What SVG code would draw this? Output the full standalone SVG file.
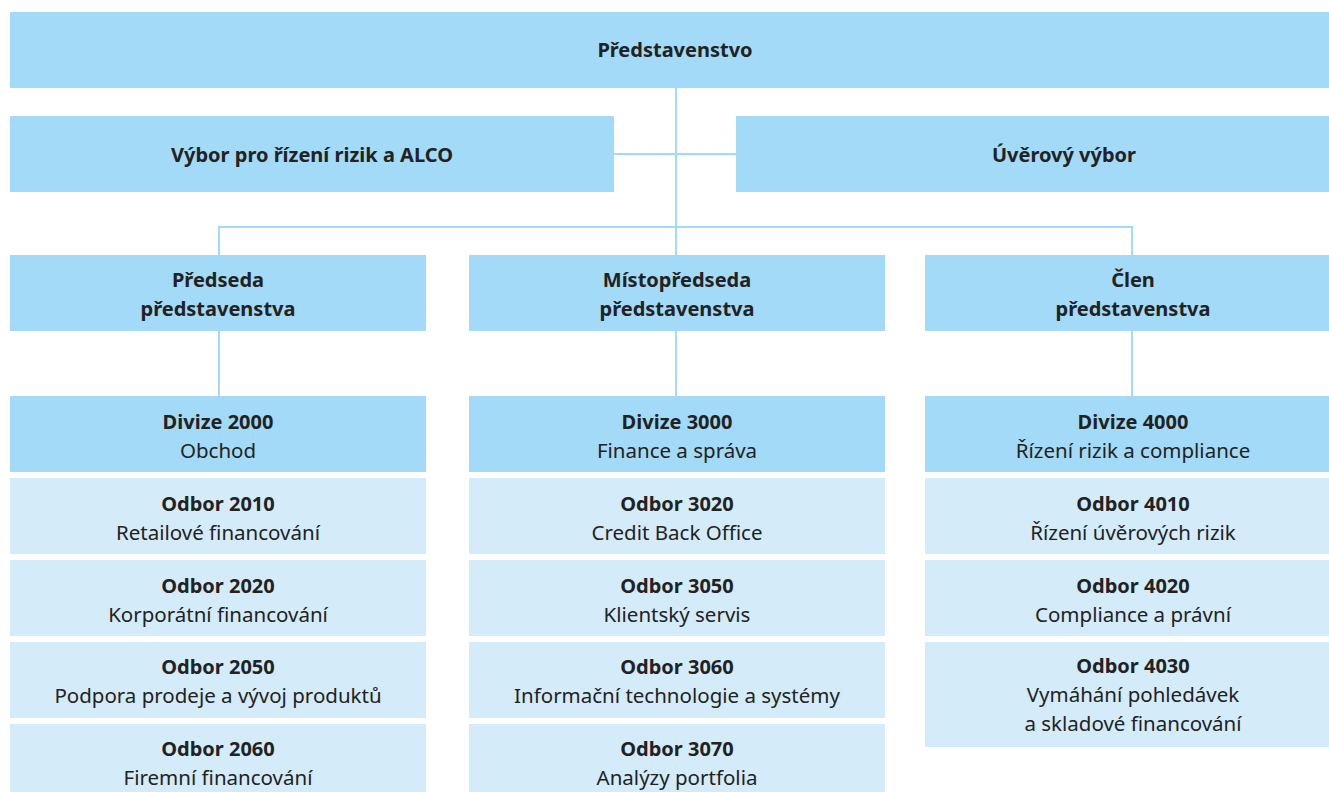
<svg xmlns="http://www.w3.org/2000/svg" width="1329" height="792" viewBox="0 0 1329 792">
<style>
.d{fill:#a3daf7}
.l{fill:#d4ebfa}
.c{stroke:#a3daf7;stroke-width:2;fill:none}
text{font-family:"Noto Sans","Open Sans",sans-serif;font-size:20.5px;fill:#222;text-anchor:middle}
.b{font-weight:bold;font-size:20px}
</style>
<rect width="1329" height="792" fill="#fff"/>
<g id="connectors">
<line class="c" x1="676" y1="88" x2="676" y2="255"/>
<line class="c" x1="614" y1="154" x2="736" y2="154"/>
<line class="c" x1="219" y1="227" x2="1132" y2="227"/>
<line class="c" x1="219" y1="226" x2="219" y2="255"/>
<line class="c" x1="1132" y1="226" x2="1132" y2="255"/>
<line class="c" x1="219" y1="331" x2="219" y2="396"/>
<line class="c" x1="676" y1="331" x2="676" y2="396"/>
<line class="c" x1="1132" y1="331" x2="1132" y2="396"/>
</g>
<g id="predstavenstvo"><rect class="d" x="10" y="12" width="1331" height="76"/><text class="b" x="675" y="57">Představenstvo</text></g>
<g id="vybor-rizik"><rect class="d" x="10" y="116" width="604" height="76"/><text class="b" x="312" y="162">Výbor pro řízení rizik a ALCO</text></g>
<g id="uverovy-vybor"><rect class="d" x="736" y="116" width="600" height="76"/><text class="b" x="1064" y="162">Úvěrový výbor</text></g>
<g id="predseda"><rect class="d" x="10" y="255" width="416" height="76"/><text class="b" x="218" y="287">Předseda</text><text class="b" x="218" y="316">představenstva</text></g>
<g id="mistopredseda"><rect class="d" x="469" y="255" width="416" height="76"/><text class="b" x="677" y="287">Místopředseda</text><text class="b" x="677" y="316">představenstva</text></g>
<g id="clen"><rect class="d" x="925" y="255" width="416" height="76"/><text class="b" x="1133" y="287">Člen</text><text class="b" x="1133" y="316">představenstva</text></g>

<g id="divize2000"><rect class="d" x="10" y="396" width="416" height="76"/><text class="b" x="218" y="429">Divize 2000</text><text x="218" y="458">Obchod</text></g>
<g id="odbor2010"><rect class="l" x="10" y="478" width="416" height="76"/><text class="b" x="218" y="511">Odbor 2010</text><text x="218" y="540">Retailové financování</text></g>
<g id="odbor2020"><rect class="l" x="10" y="560" width="416" height="76"/><text class="b" x="218" y="593">Odbor 2020</text><text x="218" y="622">Korporátní financování</text></g>
<g id="odbor2050"><rect class="l" x="10" y="642" width="416" height="76"/><text class="b" x="218" y="674">Odbor 2050</text><text x="218" y="703">Podpora prodeje a vývoj produktů</text></g>
<g id="odbor2060"><rect class="l" x="10" y="724" width="416" height="76"/><text class="b" x="218" y="756">Odbor 2060</text><text x="218" y="785">Firemní financování</text></g>

<g id="divize3000"><rect class="d" x="469" y="396" width="416" height="76"/><text class="b" x="677" y="429">Divize 3000</text><text x="677" y="458">Finance a správa</text></g>
<g id="odbor3020"><rect class="l" x="469" y="478" width="416" height="76"/><text class="b" x="677" y="511">Odbor 3020</text><text x="677" y="540">Credit Back Office</text></g>
<g id="odbor3050"><rect class="l" x="469" y="560" width="416" height="76"/><text class="b" x="677" y="593">Odbor 3050</text><text x="677" y="622">Klientský servis</text></g>
<g id="odbor3060"><rect class="l" x="469" y="642" width="416" height="76"/><text class="b" x="677" y="674">Odbor 3060</text><text x="677" y="703">Informační technologie a systémy</text></g>
<g id="odbor3070"><rect class="l" x="469" y="724" width="416" height="76"/><text class="b" x="677" y="756">Odbor 3070</text><text x="677" y="785">Analýzy portfolia</text></g>

<g id="divize4000"><rect class="d" x="925" y="396" width="416" height="76"/><text class="b" x="1133" y="429">Divize 4000</text><text x="1133" y="458">Řízení rizik a compliance</text></g>
<g id="odbor4010"><rect class="l" x="925" y="478" width="416" height="76"/><text class="b" x="1133" y="511">Odbor 4010</text><text x="1133" y="540">Řízení úvěrových rizik</text></g>
<g id="odbor4020"><rect class="l" x="925" y="560" width="416" height="76"/><text class="b" x="1133" y="593">Odbor 4020</text><text x="1133" y="622">Compliance a právní</text></g>
<g id="odbor4030"><rect class="l" x="925" y="642" width="416" height="105"/><text class="b" x="1133" y="673">Odbor 4030</text><text x="1133" y="702">Vymáhání pohledávek</text><text x="1133" y="731">a skladové financování</text></g>
</svg>
